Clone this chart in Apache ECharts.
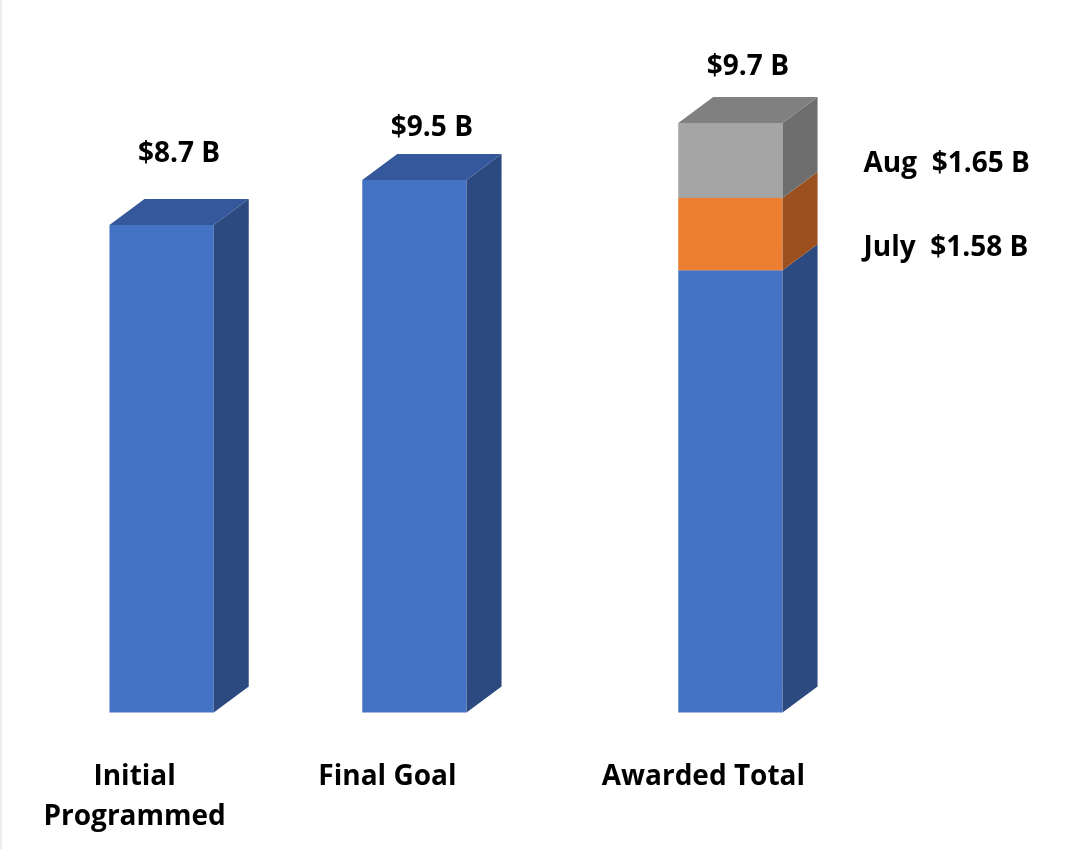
<!DOCTYPE html>
<html>
<head>
<meta charset="utf-8">
<title>Awarded Total</title>
<script src="https://cdn.jsdelivr.net/npm/echarts@6/dist/echarts.min.js"></script>
<style>
  html, body { margin: 0; padding: 0; background: #fff; }
  #main { width: 1068px; height: 849px; box-sizing: border-box; border-left: 2px solid #ececec; }
</style>
</head>
<body>
<div id="main"></div>
<script>
// categories (blank entries are spacer slots between the bars)
var categories = ['Initial\nProgrammed', '', '', '', 'Final Goal', '', '', '', '', 'Awarded Total'];
var barNames = ['Initial\nProgrammed', 'Final Goal', 'Awarded Total'];
// values in $ billions
var baseValues = [8.7, 9.5, 7.89];
var julyValues = [0, 0, 1.29];
var augValues = [0, 0, 1.34];
var valueLabels = ['$8.7 B', '$9.5 B', '$9.7 B'];
var segmentLabels = [null, 'July  $1.58 B', 'Aug  $1.65 B'];

// look
var FRONT = ['#4472C4', '#ED7D31', '#A5A5A5'];
var SIDE = ['#2C4A80', '#9C4F1F', '#6E6E6E'];
var TOP = ['#35589C', '#B85E24', '#808080'];
var DX = 35, DY = 26;          // 3d depth offset
var BAR_SLOTS = 1.65;          // bar width in category slots
var VALUE_LIFT = [45, 26, 30]; // label distance above back top edge
var SEG_LABEL_DY = [0, 50, 41];
var FONT = { fontFamily: 'Open Sans', fontWeight: 'bold', fontSize: 28, fill: '#000' };

var seriesData = barNames.map(function (n, i) {
    return [categories.indexOf(n), baseValues[i], julyValues[i], augValues[i]];
});

function txt(x, y, text, align, vAlign, extra) {
    var style = Object.assign({ x: x, y: y, text: text, textAlign: align, textVerticalAlign: vAlign }, FONT, extra || {});
    return { type: 'text', style: style };
}

function renderBar(params, api) {
    var idx = api.value(0);
    var segs = [api.value(1), api.value(2), api.value(3)];
    var w = api.size([1, 0])[0] * BAR_SLOTS;
    var cx = api.coord([idx, 0])[0];
    var x0 = cx - w / 2, x1 = cx + w / 2;
    var yBase = api.coord([idx, 0])[1];
    var children = [];
    var acc = 0, topY = yBase, topSeg = 0;
    segs.forEach(function (v, s) {
        if (!v) return;
        var yb = api.coord([idx, acc])[1];
        acc += v;
        var yt = api.coord([idx, acc])[1];
        children.push({ type: 'rect', shape: { x: x0, y: yt, width: w, height: yb - yt }, style: { fill: FRONT[s] } });
        children.push({ type: 'polygon', shape: { points: [[x1, yb], [x1 + DX, yb - DY], [x1 + DX, yt - DY], [x1, yt]] }, style: { fill: SIDE[s] } });
        if (segmentLabels[s]) {
            children.push(txt(x1 + DX + 46, yt + SEG_LABEL_DY[s], segmentLabels[s], 'left', 'middle'));
        }
        topY = yt; topSeg = s;
    });
    children.push({ type: 'polygon', shape: { points: [[x0, topY], [x0 + DX, topY - DY], [x1 + DX, topY - DY], [x1, topY]] }, style: { fill: TOP[topSeg] } });
    var i = params.dataIndex;
    children.push(txt(cx + DX / 2, topY - DY - VALUE_LIFT[i], valueLabels[i], 'center', 'middle'));
    children.push(txt(cx - 27, yBase + 45, categories[idx], 'center', 'top', { lineHeight: 40 }));
    return { type: 'group', children: children };
}

var chart = echarts.init(document.getElementById('main'), null, { renderer: 'canvas' });
var option = {
    backgroundColor: '#fff',
    animation: false,
    grid: { left: 128, right: 306, top: 40, bottom: 136.5, containLabel: false },
    xAxis: {
        type: 'category',
        data: categories,
        show: false
    },
    yAxis: {
        type: 'value',
        min: 0,
        max: 12,
        show: false
    },
    series: [{
        type: 'custom',
        renderItem: renderBar,
        data: seriesData,
        clip: false
    }]
};
chart.setOption(option);
</script>
</body>
</html>
